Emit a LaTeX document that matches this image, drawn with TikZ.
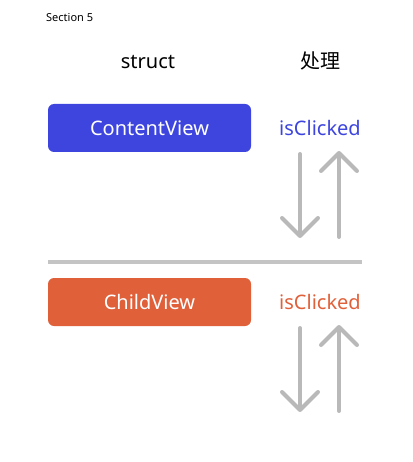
\documentclass[tikz,border=0pt]{standalone}
\usepackage{fontspec}
\setmainfont{Noto Sans}
\newfontfamily\cjk{Noto Sans CJK SC}
\usetikzlibrary{arrows.meta}
\definecolor{cvblue}{HTML}{3D45DE}
\definecolor{chorange}{HTML}{E0603A}
\definecolor{arrgray}{HTML}{B9B9B9}
\definecolor{linegray}{HTML}{C4C4C4}
\begin{document}
\begin{tikzpicture}[x=1pt,y=-1pt,
  viewbox/.style={rounded corners=6pt, minimum width=203pt, minimum height=48pt, inner sep=0pt,
    text=white, font=\fontsize{20}{24}\selectfont},
  head/.style={font=\fontsize{20}{24}\selectfont, inner sep=0pt},
  flow/.style={draw=arrgray, line width=4pt, line cap=round,
    -{Straight Barb[length=18pt, width=36pt, line width=4pt, round]}},
  sep/.style={draw=linegray, line width=4pt}]
\useasboundingbox (0,0) rectangle (412,462);
\node[anchor=west, inner sep=0pt, font=\fontsize{11}{13}\selectfont] (sec) at (46,18) {Section 5};
\node[head] (struct) at (148,62) {struct};
\node[head, font=\cjk\fontsize{20}{24}\selectfont] (proc) at (320,61) {处理};
\node[viewbox, fill=cvblue] (cv) at (149.5,128) {ContentView};
\node[head, text=cvblue] (ic1) at (320,128) {isClicked};
\node[viewbox, fill=chorange] (ch) at (149.5,302) {ChildView};
\node[head, text=chorange] (ic2) at (320,302) {isClicked};
\coordinate (l1) at (48,262);
\coordinate (l2) at (362,262);
\draw[sep] (l1) -- (l2);
\coordinate (d1s) at (300,154);
\coordinate (d1e) at (300,238);
\coordinate (u1s) at (339,237);
\coordinate (u1e) at (339,151);
\coordinate (d2s) at (300,328);
\coordinate (d2e) at (300,412);
\coordinate (u2s) at (339,411);
\coordinate (u2e) at (339,325);
\draw[flow] (d1s) -- (d1e);
\draw[flow] (u1s) -- (u1e);
\draw[flow] (d2s) -- (d2e);
\draw[flow] (u2s) -- (u2e);
\end{tikzpicture}
\end{document}
